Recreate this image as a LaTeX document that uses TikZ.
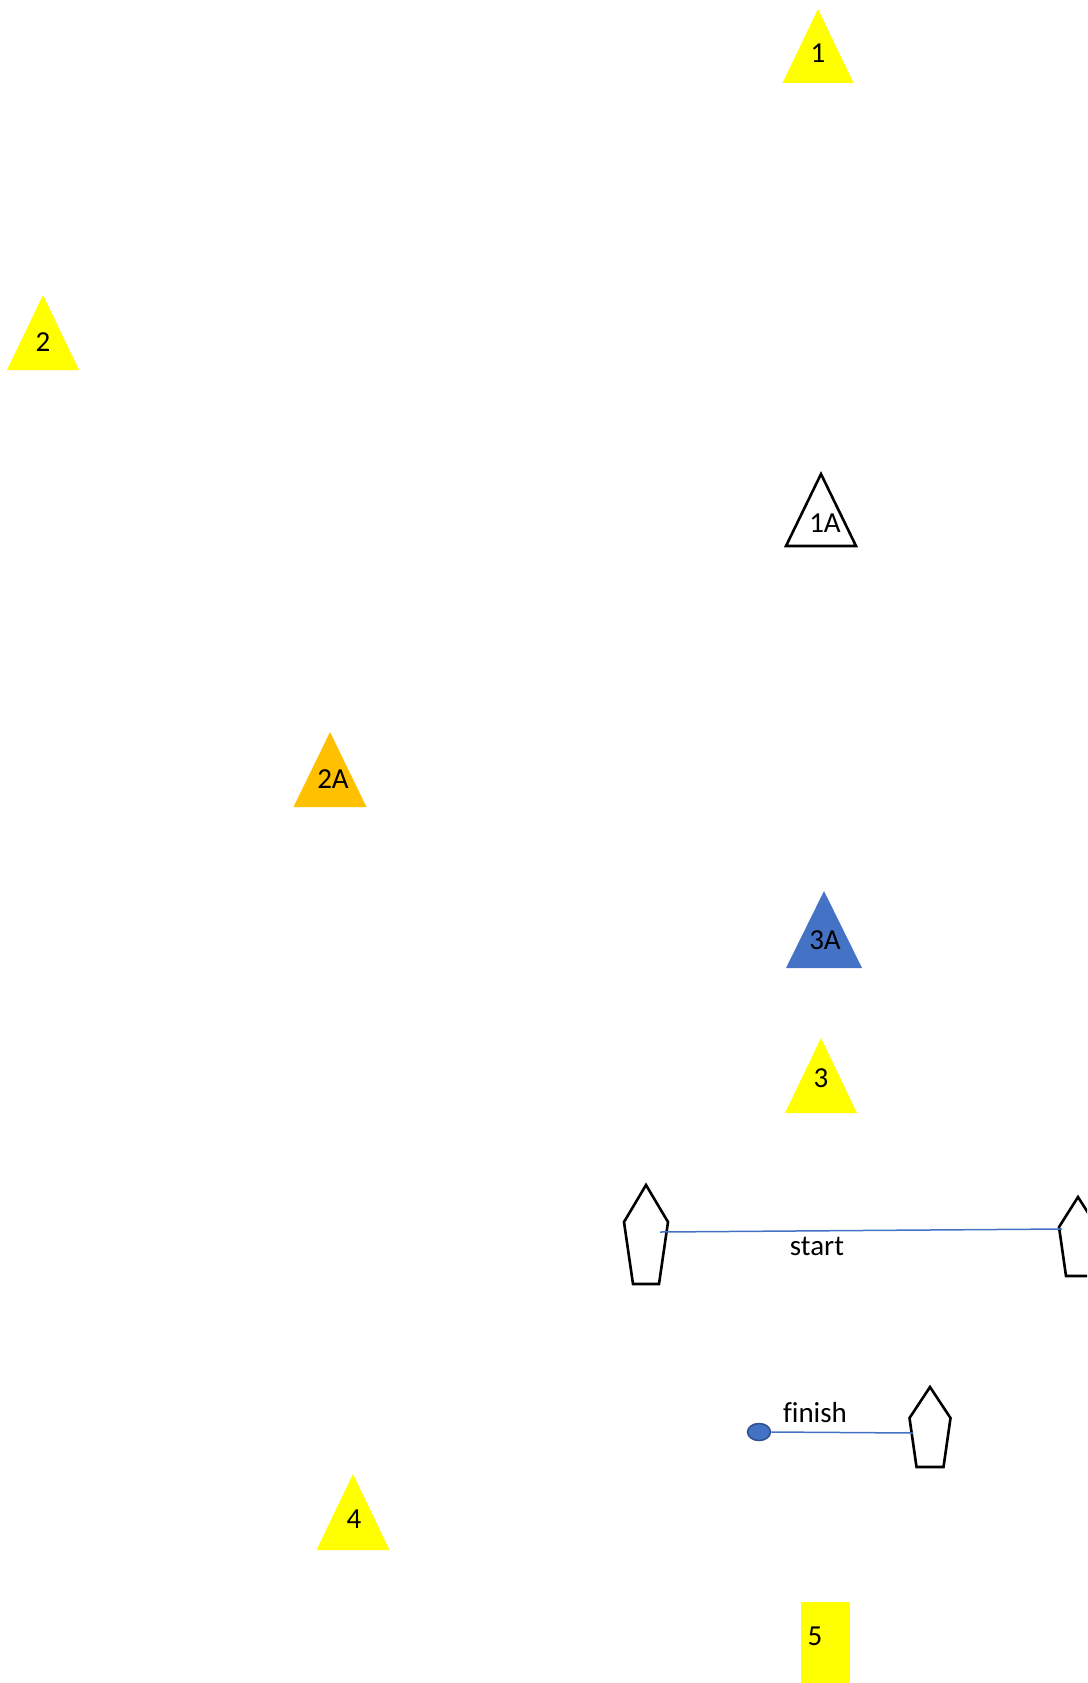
\documentclass[tikz,border=0pt]{standalone}
\usepackage{fontspec}
\setmainfont{Carlito}[Ligatures=NoCommon]
\usetikzlibrary{shapes.geometric}
\definecolor{cyellow}{HTML}{FFFF00}
\definecolor{corange}{HTML}{FFC000}
\definecolor{cblue}{HTML}{4472C4}
\definecolor{cdarkblue}{HTML}{2F528F}
\tikzset{
  every picture/.style={font=\fontsize{29}{33}\selectfont},
  buoy/.style={fill=#1, draw=none},
  buoy/.default=cyellow,
  outline/.style={draw=black, line width=2.6pt, line join=miter},
  lbl/.style={inner sep=0pt, anchor=center},
  line/.style={draw=cblue, line width=1.5pt},
}
% apex x, apex y, width, height, style
\newcommand{\buoytri}[5]{\path[#5] (#1,#2) -- ++(#3/2,#4) -- ++(-#3,0) -- cycle;}
% apex x, apex y, half width, shoulder drop, total height, bottom inset
\newcommand{\boat}[6]{\draw[outline] (#1,#2) -- ++(#3,#4) -- ++(-#6,#5-#4) -- ++(-2*#3+2*#6,0) -- ++(-#6,#4-#5) -- cycle;}

\begin{document}
\begin{tikzpicture}[x=1pt, y=-1pt]
  \useasboundingbox (0,0) rectangle (1087,1683);
  \clip (0,0) rectangle (1087,1683);
  % marks
  \buoytri{818}{9}{71}{74}{buoy}
  \node[lbl] (m1) at (818,53) {1};
  \buoytri{43}{295}{72}{75}{buoy}
  \node[lbl] (m2) at (43,342) {2};
  \buoytri{821}{474}{70}{72}{outline}
  \node[lbl] (m1a) at (825,523) {1A};
  \buoytri{330}{732}{73}{75}{buoy=corange}
  \node[lbl] (m2a) at (333,779) {2A};
  \buoytri{824}{891}{76}{77}{buoy=cblue}
  \node[lbl] (m3a) at (825,940) {3A};
  \buoytri{821}{1038}{72}{75}{buoy}
  \node[lbl] (m3) at (821,1078) {3};
  \buoytri{353}{1474}{73}{76}{buoy}
  \node[lbl] (m4) at (354,1519) {4};
  \fill[cyellow] (801,1602) rectangle (850,1683);
  \node[lbl] (m5) at (815,1636) {5};
  % start line
  \boat{646}{1185}{22}{37}{99}{9}
  \boat{1078}{1197}{19}{30}{79}{7}
  \coordinate (pinL) at (660,1232);
  \coordinate (pinR) at (1062,1229);
  \draw[line] (pinL) -- (pinR);
  \node[lbl] (start) at (817,1246) {start};
  % finish line
  \boat{930}{1387}{20.5}{31}{80}{7}
  \node[ellipse, draw=cdarkblue, fill=cblue, line width=1.5pt, inner sep=0pt,
        minimum width=23pt, minimum height=17pt] (dot) at (759,1432) {};
  \coordinate (pinF) at (913,1433);
  \draw[line] (dot.east) -- (pinF);
  \node[lbl] (finish) at (815,1413) {finish};
\end{tikzpicture}
\end{document}
